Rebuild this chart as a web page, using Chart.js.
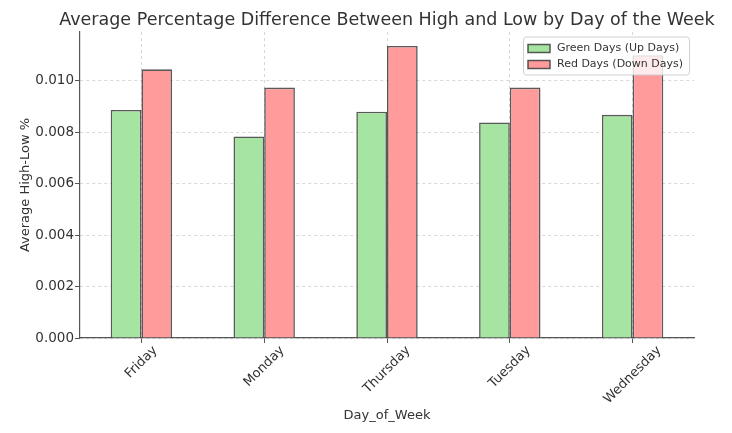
<!DOCTYPE html>
<html>
<head>
    <title>High-Low by Day of Week</title>
    <script src="https://cdn.jsdelivr.net/npm/chart.js"></script>
    <style>
        body {
            margin: 0;
            padding: 0;
            background-color: #ffffff;
        }

        .chart-box {
            width: 732px;
            height: 433px;
        }
    </style>
</head>
<body>
    <div class="chart-box">
        <canvas id="hlChart"></canvas>
    </div>

    <script>
        var days = ["Friday", "Monday", "Thursday", "Tuesday", "Wednesday"];
        var greenDays = [0.00887, 0.00784, 0.00880, 0.00838, 0.00868];
        var redDays = [0.01045, 0.00974, 0.01136, 0.00974, 0.01100];
        var yTicks = [0.000, 0.002, 0.004, 0.006, 0.008, 0.010];
        var chartTitle = 'Average Percentage Difference Between High and Low by Day of the Week';

        var edgeColor = 'rgba(60, 60, 60, 0.85)';

        // title centred over the plot area (matplotlib style), not over the whole canvas
        var plotTitle = {
            id: 'plotTitle',
            afterDraw: function(chart) {
                var ctx = chart.ctx;
                var area = chart.chartArea;
                ctx.save();
                ctx.font = '17.5px "DejaVu Sans"';
                ctx.fillStyle = '#333333';
                ctx.textAlign = 'center';
                ctx.textBaseline = 'middle';
                ctx.fillText(chartTitle, (area.left + area.right) / 2, 20);
                ctx.restore();
            }
        };

        // rotated x labels, each one centred under its tick (Chart.js anchors the end instead)
        var centeredXLabels = {
            id: 'centeredXLabels',
            afterDraw: function(chart) {
                var ctx = chart.ctx;
                var xScale = chart.scales.x;
                var top = xScale.top + 6;
                var c = Math.SQRT1_2;
                ctx.save();
                ctx.font = '13px "DejaVu Sans"';
                ctx.fillStyle = '#333333';
                ctx.textAlign = 'center';
                ctx.textBaseline = 'middle';
                xScale.ticks.forEach(function(tick, i) {
                    var text = xScale.getLabelForValue(tick.value);
                    var w = ctx.measureText(text).width;
                    var h = 13 * 0.95;
                    var bboxH = (w + h) * c;
                    ctx.save();
                    ctx.translate(xScale.getPixelForTick(i), top + bboxH / 2);
                    ctx.rotate(-Math.PI / 4);
                    ctx.fillText(text, 0, 0);
                    ctx.restore();
                });
                ctx.restore();
            }
        };

        // legend drawn inside the plot, top right, like the original
        var insideLegend = {
            id: 'insideLegend',
            afterDatasetsDraw: function(chart) {
                var ctx = chart.ctx;
                var area = chart.chartArea;
                var sets = chart.data.datasets;
                var boxW = 166, rowH = 16;
                var boxH = sets.length * rowH + 6;
                var x0 = area.right - boxW - 5;
                var y0 = area.top + 4.5;

                ctx.save();
                ctx.fillStyle = 'rgba(255, 255, 255, 0.8)';
                ctx.strokeStyle = 'rgba(204, 204, 204, 0.9)';
                ctx.lineWidth = 1;
                ctx.beginPath();
                ctx.roundRect(x0 + 0.5, y0 + 0.5, boxW, boxH, 3);
                ctx.fill();
                ctx.stroke();

                ctx.font = '11px "DejaVu Sans"';
                ctx.textBaseline = 'middle';
                for (var i = 0; i < sets.length; i++) {
                    var cy = y0 + 4 + rowH / 2 + i * rowH;
                    ctx.fillStyle = sets[i].backgroundColor;
                    ctx.fillRect(x0 + 5, cy - 4, 22, 8);
                    ctx.strokeStyle = edgeColor;
                    ctx.lineWidth = 1.5;
                    ctx.strokeRect(x0 + 5, cy - 4, 22, 8);
                    ctx.fillStyle = '#333333';
                    ctx.fillText(sets[i].label, x0 + 34, cy);
                }
                ctx.restore();
            }
        };

        var ctx = document.getElementById('hlChart').getContext('2d');
        var hlChart = new Chart(ctx, {
            type: 'bar',
            data: {
                labels: days,
                datasets: [{
                    label: 'Green Days (Up Days)',
                    data: greenDays,
                    backgroundColor: '#a6e5a1',
                    borderColor: edgeColor,
                    borderWidth: 1.6,
                    categoryPercentage: 0.5,
                    barPercentage: 1.0
                }, {
                    label: 'Red Days (Down Days)',
                    data: redDays,
                    backgroundColor: '#ff9b9b',
                    borderColor: edgeColor,
                    borderWidth: 1.6,
                    categoryPercentage: 0.5,
                    barPercentage: 1.0
                }]
            },
            options: {
                responsive: true,
                maintainAspectRatio: false,
                animation: false,
                layout: {
                    padding: { left: 0, right: 38, top: 32, bottom: 0 }
                },
                plugins: {
                    legend: { display: false },
                    tooltip: { enabled: false },
                    title: { display: false }
                },
                scales: {
                    x: {
                        grid: {
                            offset: false,
                            color: 'rgba(200, 200, 200, 0.7)',
                            tickColor: '#555555',
                            tickLength: 5
                        },
                        border: { color: '#555555', width: 1.2, dash: [3, 3] },
                        ticks: { display: false },
                        title: {
                            display: true,
                            text: 'Day_of_Week',
                            color: '#333333',
                            font: { family: 'DejaVu Sans', size: 13 },
                            padding: { top: 0, bottom: 10 }
                        },
                        afterFit: function(scale) {
                            scale.height = 95;
                        }
                    },
                    y: {
                        min: 0,
                        max: 0.0119,
                        grid: {
                            color: 'rgba(200, 200, 200, 0.7)',
                            tickColor: '#555555',
                            tickLength: 5
                        },
                        border: { color: '#555555', width: 1.2, dash: [3, 3] },
                        afterBuildTicks: function(scale) {
                            scale.ticks = yTicks.map(function(v) { return { value: v }; });
                        },
                        ticks: {
                            color: '#333333',
                            font: { family: 'DejaVu Sans', size: 13.5 },
                            padding: 1,
                            callback: function(value) {
                                return Number(value).toFixed(3);
                            }
                        },
                        title: {
                            display: true,
                            text: 'Average High-Low %',
                            color: '#333333',
                            font: { family: 'DejaVu Sans', size: 13 },
                            padding: { top: 18, bottom: 0 }
                        },
                        afterFit: function(scale) {
                            scale.width = 80;
                        }
                    }
                }
            },
            plugins: [insideLegend, plotTitle, centeredXLabels]
        });
    </script>
</body>
</html>
